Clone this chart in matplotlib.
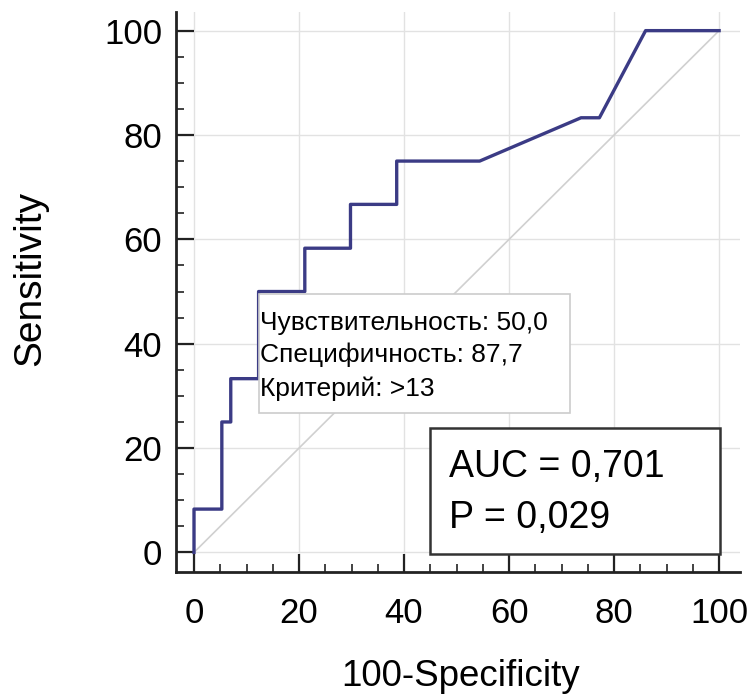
import numpy as np
import matplotlib.pyplot as plt
from matplotlib.ticker import MultipleLocator
from matplotlib.patches import Rectangle

plt.rcParams['font.family'] = ['Liberation Sans', 'DejaVu Sans']

# ROC curve points (100-Specificity, Sensitivity)
fpr = [0, 0, 5.3, 5.3, 7.0, 7.0, 12.3, 12.3, 21.1, 21.1, 29.8, 29.8, 38.6, 38.6,
       54.4, 73.7, 77.2, 86.0, 100]
tpr = [0, 8.3, 8.3, 25.0, 25.0, 33.3, 33.3, 50.0, 50.0, 58.3, 58.3, 66.7, 66.7, 75.0,
       75.0, 83.3, 83.3, 100, 100]

crit_lines = ['Чувствительность: 50,0', 'Специфичность: 87,7', 'Критерий: >13']
auc_lines = ['AUC = 0,701', 'P = 0,029']

fig = plt.figure(figsize=(7.56, 6.97), dpi=100)
ax = fig.add_axes([0.233, 0.179, 0.746, 0.804])

ax.grid(True, color='#e2e2e2', linewidth=1)
ax.set_axisbelow(True)
ax.plot([0, 100], [0, 100], color='#d0d0d0', linewidth=1.2)
ax.plot(fpr, tpr, color='#3b3b85', linewidth=2.4)

ax.set_xlim(-3.4, 104)
ax.set_ylim(-3.8, 103.6)
ax.xaxis.set_major_locator(MultipleLocator(20))
ax.yaxis.set_major_locator(MultipleLocator(20))
ax.xaxis.set_minor_locator(MultipleLocator(5))
ax.yaxis.set_minor_locator(MultipleLocator(5))
ax.tick_params(which='major', direction='in', length=13, width=1.6, labelsize=25, pad=10, color='#222222')
ax.tick_params(which='minor', direction='in', length=6, width=1.2, color='#222222')
ax.tick_params(axis='x', which='major', pad=18)
for s in ['top', 'right']:
    ax.spines[s].set_visible(False)
for s in ['left', 'bottom']:
    ax.spines[s].set_linewidth(2)
    ax.spines[s].set_color('#222222')

ax.set_xlabel('100-Specificity', fontsize=26.5)
ax.set_ylabel('Sensitivity', fontsize=28)
ax.xaxis.set_label_coords(0.504, -0.155)
ax.yaxis.set_label_coords(-0.227, 0.525)

# criterion box
ax.add_patch(Rectangle((12.4, 26.7), 59.2, 22.8, facecolor='white', edgecolor='#cccccc',
                       linewidth=1.2, zorder=3))
for txt, yy in zip(crit_lines, [44.0, 37.8, 31.4]):
    ax.text(12.6, yy, txt, fontsize=19, va='center', ha='left', zorder=4)

# AUC box
ax.add_patch(Rectangle((45.0, -0.4), 55.2, 24.2, facecolor='white', edgecolor='#333333',
                       linewidth=1.8, zorder=3))
for txt, yy in zip(auc_lines, [16.3, 6.5]):
    ax.text(48.6, yy, txt, fontsize=27, va='center', ha='left', zorder=4)

fig.savefig('out.png', dpi=100)
